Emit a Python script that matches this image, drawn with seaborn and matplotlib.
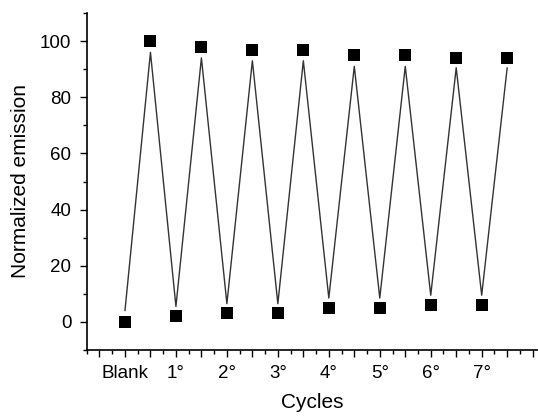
import matplotlib
matplotlib.use("Agg")
import matplotlib.pyplot as plt
from matplotlib.ticker import MultipleLocator, FuncFormatter
import seaborn as sns
import pandas as pd

# cycle positions: integers = after reset, halves = after switching on
positions = [0, 0.5, 1, 1.5, 2, 2.5, 3, 3.5, 4, 4.5, 5, 5.5, 6, 6.5, 7, 7.5]
emission = [0, 100, 2, 98, 3, 97, 3, 97, 5, 95, 5, 95, 6, 94, 6, 94]
# the guide line drawn through the cycles (slightly inside the squares)
guide = [4, 96, 5.5, 94, 6.5, 93, 6.5, 93, 8.5, 91, 8.5, 91, 9.5, 90.5, 9.5, 90.5]
cycle_labels = ['Blank', '1°', '2°', '3°', '4°', '5°', '6°', '7°']

sns.set_style("ticks")
plt.rcParams['font.family'] = ['Liberation Sans', 'DejaVu Sans']
plt.rcParams['text.color'] = 'black'
plt.rcParams['axes.labelcolor'] = 'black'
plt.rcParams['xtick.color'] = 'black'
plt.rcParams['ytick.color'] = 'black'

df = pd.DataFrame({'pos': positions, 'emission': emission, 'guide': guide})

fig = plt.figure(figsize=(5.38, 4.16), dpi=100)
ax = fig.add_axes([86.75 / 538, 66 / 416, 451 / 538, 337 / 416])

sns.lineplot(data=df, x='pos', y='guide', ax=ax, color='#333333', lw=1.0, sort=False)
sns.scatterplot(data=df, x='pos', y='emission', ax=ax, marker='s', s=64,
                color='black', edgecolor='black', linewidth=0, zorder=3)

ax.set_xlim(-0.75, 8.1)
ax.set_ylim(-10, 110)
ax.xaxis.set_major_locator(MultipleLocator(0.5))
ax.xaxis.set_minor_locator(MultipleLocator(0.25))
ax.yaxis.set_major_locator(MultipleLocator(20))
ax.yaxis.set_minor_locator(MultipleLocator(10))


def xfmt(v, p):
    i = int(round(v))
    if abs(v - i) < 1e-6 and 0 <= i < len(cycle_labels):
        return cycle_labels[i]
    return ''


ax.xaxis.set_major_formatter(FuncFormatter(xfmt))
ax.tick_params(axis='both', which='major', length=5, width=1, labelsize=13.5,
               color='black', labelcolor='black')
ax.tick_params(axis='both', which='minor', length=3, width=1, color='black')
ax.tick_params(axis='x', pad=6)
ax.tick_params(axis='y', pad=6)

sns.despine(ax=ax)
for s in ['left', 'bottom']:
    ax.spines[s].set_linewidth(1.2)
    ax.spines[s].set_color('black')

ax.set_xlabel('Cycles', fontsize=15, labelpad=8, color='black')
ax.set_ylabel('Normalized emission', fontsize=15, labelpad=7, color='black')

fig.savefig('out.png', dpi=100)
